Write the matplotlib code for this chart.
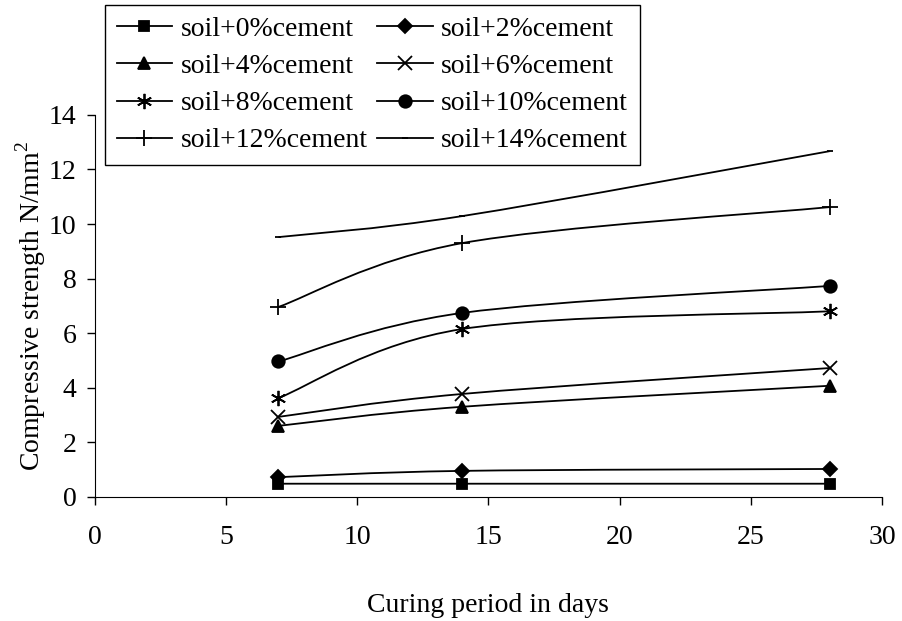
import matplotlib
matplotlib.use('Agg')
import matplotlib.pyplot as plt
import numpy as np
from matplotlib.path import Path
from matplotlib.patches import PathPatch
from matplotlib.lines import Line2D

plt.rcParams['font.family'] = ['Liberation Serif', 'DejaVu Serif']
plt.rcParams['mathtext.fontset'] = 'custom'
plt.rcParams['mathtext.rm'] = 'Liberation Serif'

# data
days = [7, 14, 28]
labels = ['soil+0%cement', 'soil+2%cement', 'soil+4%cement', 'soil+6%cement',
          'soil+8%cement', 'soil+10%cement', 'soil+12%cement', 'soil+14%cement']
c0 = [0.48, 0.48, 0.48]
c2 = [0.72, 0.95, 1.02]
c4 = [2.6, 3.3, 4.07]
c6 = [2.93, 3.77, 4.72]
c8 = [3.62, 6.15, 6.8]
c10 = [4.96, 6.74, 7.73]
c12 = [6.96, 9.3, 10.62]
c14 = [9.52, 10.29, 12.67]
series = [c0, c2, c4, c6, c8, c10, c12, c14]

markers = ['s', 'D', '^', 'x', (6, 2, 0), 'o', '+', '_']
msizes = [7, 7, 8, 10, 11, 9, 11, 5]
FS = 20


def smooth_path(x, y):
    # Excel-style smoothed line: cubic bezier segments
    p = np.column_stack([x, y]).astype(float)
    pts = np.vstack([p[0], p, p[-1]])
    verts = [tuple(p[0])]
    codes = [Path.MOVETO]
    for i in range(1, len(pts) - 2):
        a, b, c, d = pts[i - 1], pts[i], pts[i + 1], pts[i + 2]
        verts += [tuple(b + (c - a) / 6), tuple(c - (d - b) / 6), tuple(c)]
        codes += [Path.CURVE4] * 3
    return Path(verts, codes)


fig = plt.figure(figsize=(9.02, 6.21), dpi=100)
ax = fig.add_axes([0.105, 0.2, 0.873, 0.615])

handles = []
for vals, m, ms, lab in zip(series, markers, msizes, labels):
    ax.add_patch(PathPatch(smooth_path(days, vals), facecolor='none',
                           edgecolor='black', lw=1.3))
    ax.plot(days, vals, linestyle='none', marker=m, markersize=ms,
            color='black', mew=1.3)
    handles.append(Line2D([], [], color='black', lw=1.3, marker=m,
                          markersize=ms, mew=1.3, label=lab))

ax.set_xlim(0, 30)
ax.set_ylim(0, 14)
ax.set_xticks(np.arange(0, 31, 5))
ax.set_yticks(np.arange(0, 15, 2))
ax.spines['top'].set_visible(False)
ax.spines['right'].set_visible(False)
ax.tick_params(axis='both', direction='out', length=6, width=1, labelsize=FS)
ax.tick_params(axis='x', pad=14)
ax.tick_params(axis='y', pad=7)
ax.set_xlabel('Curing period in days', fontsize=FS, labelpad=31)
ax.set_ylabel('Compressive strength N/mm$^2$', fontsize=FS, labelpad=1)

# row-wise legend order like the original
order = [0, 2, 4, 6, 1, 3, 5, 7]
leg = ax.legend(handles=[handles[i] for i in order], ncol=2, loc='upper left',
                bbox_to_anchor=(105 / 902, 1 - 5 / 621),
                bbox_transform=fig.transFigure, fontsize=FS,
                frameon=True, fancybox=False, edgecolor='black',
                handlelength=2.0, columnspacing=0.35, labelspacing=0.42,
                handletextpad=0.3, borderpad=0.42, borderaxespad=0)
leg.get_frame().set_linewidth(1)
leg.get_frame().set_alpha(1)

fig.savefig('out.png', dpi=100)
